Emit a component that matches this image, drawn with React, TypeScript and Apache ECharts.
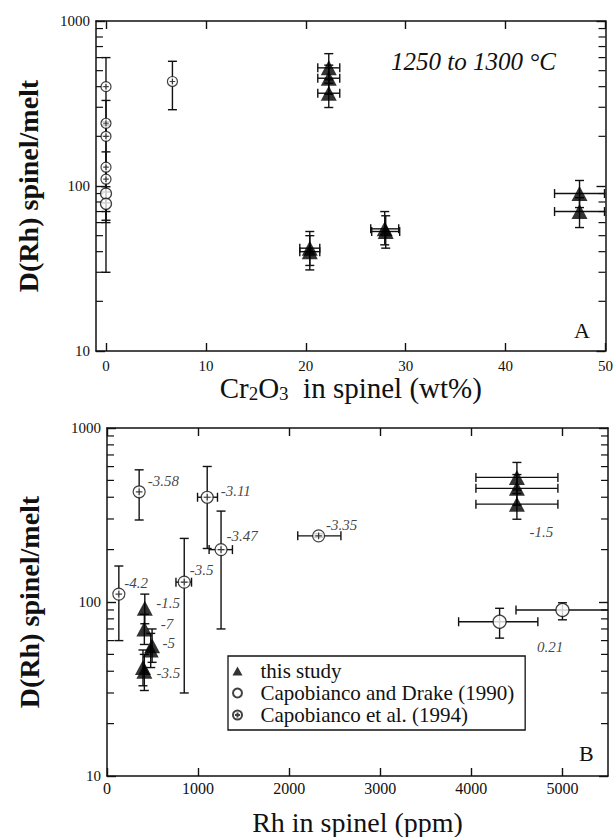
import React, { useEffect, useRef } from 'react';
import * as echarts from 'echarts';

// ---------- data ----------
const xTicksA = [0, 10, 20, 30, 40, 50];
const xTicksB = [0, 1000, 2000, 3000, 4000, 5000];
const minorTicks = [20, 30, 40, 50, 60, 70, 80, 90, 200, 300, 400, 500, 600, 700, 800, 900];

// rows: [x, D, xLow, xHigh, DLow, DHigh]
// Panel A: Cr2O3 in spinel (wt%)
const studyA = [
  [20.4, 42, 19.4, 21.4, 33, 53],
  [20.4, 40, 19.4, 21.4, 31, 50],
  [22.3, 520, 21.2, 23.4, 420, 634],
  [22.3, 450, 21.2, 23.4, 360, 540],
  [22.3, 365, 21.2, 23.4, 299, 440],
  [27.9, 55, 26.5, 29.3, 44, 70],
  [28.0, 53, 26.6, 29.4, 42, 66],
  [47.4, 90, 44.9, 49.9, 74, 108],
  [47.4, 70, 44.9, 49.9, 56, 85],
];
const drakeA = [
  [0, 90, 0, 0, 79, 99],
  [0, 78, 0, 0, 62, 92],
];
const capoA = [
  [0, 400, 0, 0, 200, 600],
  [0, 240, 0, 0, 235, 245],
  [0, 200, 0, 0, 70, 330],
  [0, 130, 0, 0, 30, 232],
  [0, 110, 0, 0, 60, 161],
  [6.65, 430, 6.65, 6.65, 290, 570],
];

// Panel B: Rh in spinel (ppm)
const studyB = [
  [415, 92, 415, 415, 75, 111],
  [410, 70, 410, 410, 57, 85],
  [495, 56, 495, 495, 45, 70],
  [480, 53, 480, 480, 42, 66],
  [395, 42, 395, 395, 33, 53],
  [410, 40, 410, 410, 31, 50],
  [4500, 520, 4050, 4950, 420, 634],
  [4500, 450, 4050, 4950, 360, 540],
  [4500, 365, 4050, 4950, 299, 440],
];
const drakeB = [
  [4310, 77, 3860, 4730, 62, 92],
  [5000, 90, 4490, 5600, 79, 99],
];
const capoB = [
  [130, 111, 130, 130, 60, 161],
  [353, 430, 353, 353, 296, 575],
  [848, 130, 757, 928, 30, 232],
  [1100, 400, 994, 1213, 203, 601],
  [1252, 200, 1121, 1377, 70, 333],
  [2323, 240, 2094, 2568, 235, 247],
];

// fO2 annotations (panel B) anchored at data points
const annX = [353, 1100, 1252, 848, 130, 2323, 415, 410, 495, 395, 4500, 5000];
const annY = [430, 400, 200, 130, 111, 240, 92, 70, 56, 42, 365, 90];
const annText = ['-3.58', '-3.11', '-3.47', '-3.5', '-4.2', '-3.35', '-1.5', '-7', '-5', '-3.5', '-1.5', '0.21'];
// label offsets in px (style)
const annOffset = [
  [9, -10], [14, -6], [6, -13], [6, -12], [6, -11], [8, -10],
  [12, -5], [17, -4], [11, -2], [14, 6], [13, 28], [-25, 38],
];

const names = ['this study', 'Capobianco and Drake (1990)', 'Capobianco et al. (1994)'];

// ---------- styles ----------
const SERIF = 'Liberation Serif';
const INK = '#111';
const CPLUS = 'path://M10,0 A10,10 0 1,1 10,20 A10,10 0 1,1 10,0 Z M4.5,10 L15.5,10 M10,4.5 L10,15.5';
const TRI = 'path://M5,0 L10,9 L0,9 Z';

function errSeries(data: number[][], xi: number, yi: number) {
  return {
    type: 'custom',
    xAxisIndex: xi,
    yAxisIndex: yi,
    data,
    clip: true,
    silent: true,
    z: 2,
    encode: { x: [0, 2, 3], y: [1, 4, 5] },
    renderItem: (params: any, api: any) => {
      const x = api.value(0), y = api.value(1);
      const xl = api.value(2), xh = api.value(3), yl = api.value(4), yh = api.value(5);
      const c = api.coord([x, y]);
      const st = { stroke: INK, lineWidth: 1.4 };
      const cap = 4.5;
      const ch: any[] = [];
      if (yl !== yh) {
        const a = api.coord([x, yl]), b = api.coord([x, yh]);
        ch.push({ type: 'line', shape: { x1: c[0], y1: a[1], x2: c[0], y2: b[1] }, style: st });
        ch.push({ type: 'line', shape: { x1: c[0] - cap, y1: a[1], x2: c[0] + cap, y2: a[1] }, style: st });
        ch.push({ type: 'line', shape: { x1: c[0] - cap, y1: b[1], x2: c[0] + cap, y2: b[1] }, style: st });
      }
      if (xl !== xh) {
        const a = api.coord([xl, y]), b = api.coord([xh, y]);
        ch.push({ type: 'line', shape: { x1: a[0], y1: c[1], x2: b[0], y2: c[1] }, style: st });
        ch.push({ type: 'line', shape: { x1: a[0], y1: c[1] - cap, x2: a[0], y2: c[1] + cap }, style: st });
        ch.push({ type: 'line', shape: { x1: b[0], y1: c[1] - cap, x2: b[0], y2: c[1] + cap }, style: st });
      }
      return { type: 'group', children: ch };
    },
  };
}

function minorSeries(xv: number, xi: number, yi: number) {
  return {
    type: 'custom',
    xAxisIndex: xi,
    yAxisIndex: yi,
    data: minorTicks.map((v) => [xv, v]),
    silent: true,
    clip: false,
    z: 3,
    renderItem: (params: any, api: any) => {
      const cs = params.coordSys;
      const p = api.coord([api.value(0), api.value(1)]);
      const st = { stroke: INK, lineWidth: 1.2 };
      return {
        type: 'group',
        children: [
          { type: 'line', shape: { x1: cs.x, y1: p[1], x2: cs.x + 7, y2: p[1] }, style: st },
          { type: 'line', shape: { x1: cs.x + cs.width, y1: p[1], x2: cs.x + cs.width - 7, y2: p[1] }, style: st },
        ],
      };
    },
  };
}

function markerSeries(a: number[][], b: number[][], c: number[][], xi: number, yi: number, circ: number, plus: number) {
  return [
    {
      type: 'scatter', name: names[0], xAxisIndex: xi, yAxisIndex: yi, z: 5,
      data: a.map((d) => [d[0], d[1]]), symbol: 'triangle', symbolSize: [16, 15],
      itemStyle: { color: '#000' },
    },
    {
      type: 'scatter', name: names[1], xAxisIndex: xi, yAxisIndex: yi, z: 5,
      data: b.map((d) => [d[0], d[1]]), symbol: 'circle', symbolSize: circ,
      itemStyle: { color: '#fff', borderColor: INK, borderWidth: 1.3 },
    },
    {
      type: 'scatter', name: names[2], xAxisIndex: xi, yAxisIndex: yi, z: 5,
      data: c.map((d) => [d[0], d[1]]), symbol: CPLUS, symbolSize: plus,
      itemStyle: { color: '#fff', borderColor: INK, borderWidth: 1.2 },
    },
  ];
}

const axisLine = { show: true, onZero: false, lineStyle: { color: INK, width: 1.5 } };

function xAxes(grid: number, min: number, max: number, ticks: number[], name: any, nameGap: number, labelSize: number, labelMargin: number, nameStyle: any) {
  return [
    {
      type: 'value', gridIndex: grid, min, max, position: 'bottom',
      axisLine, splitLine: { show: false },
      axisTick: { show: true, inside: true, length: 8, customValues: ticks, lineStyle: { color: INK, width: 1.4 } },
      axisLabel: {
        customValues: ticks, color: INK, fontFamily: SERIF, fontSize: labelSize, margin: labelMargin,
        formatter: (v: number) => String(v),
      },
      name, nameLocation: 'middle', nameGap,
      nameTextStyle: nameStyle,
    },
    {
      type: 'value', gridIndex: grid, min, max, position: 'top',
      axisLine, splitLine: { show: false },
      axisTick: { show: true, inside: true, length: 8, customValues: ticks, lineStyle: { color: INK, width: 1.4 } },
      axisLabel: { show: false },
    },
  ];
}

function yAxes(grid: number, nameGap: number, labelMargin: number) {
  return [
    {
      type: 'log', logBase: 10, gridIndex: grid, min: 10, max: 1000, position: 'left',
      axisLine, splitLine: { show: false },
      axisTick: { show: true, inside: true, length: 9, lineStyle: { color: INK, width: 1.4 } },
      axisLabel: { color: INK, fontFamily: SERIF, fontSize: 15, margin: labelMargin, formatter: (v: number) => String(Math.round(v)) },
      name: 'D(Rh) spinel/melt', nameLocation: 'middle', nameGap, nameRotate: 90,
      nameTextStyle: { color: INK, fontFamily: SERIF, fontSize: 28, fontWeight: 'bold' },
    },
    {
      type: 'log', logBase: 10, gridIndex: grid, min: 10, max: 1000, position: 'right',
      axisLine, splitLine: { show: false },
      axisTick: { show: true, inside: true, length: 9, lineStyle: { color: INK, width: 1.4 } },
      axisLabel: { show: false },
    },
  ];
}

export default function App() {
  const ref = useRef<HTMLDivElement>(null);
  useEffect(() => {
    if (!ref.current) return;
    const chart = echarts.init(ref.current, null, { renderer: 'svg', width: 616, height: 837 });
    const nameA = {
      color: INK, fontFamily: SERIF, fontSize: 29,
      rich: {
        a: { fontSize: 29, fontFamily: SERIF, color: INK, lineHeight: 30 },
        s: { fontSize: 19, fontFamily: SERIF, color: INK, lineHeight: 10, verticalAlign: 'bottom' },
      },
    };
    const nameB = { color: INK, fontFamily: SERIF, fontSize: 28 };
    const option: any = {
      animation: false,
      backgroundColor: '#fff',
      textStyle: { fontFamily: SERIF },
      grid: [
        { left: 96, top: 21, width: 511, height: 330 },
        { left: 107, top: 428, width: 501, height: 348 },
      ],
      xAxis: [
        ...xAxes(0, -1, 50, xTicksA, '{a|Cr}{s|2}{a|O}{s|3}{a|  in spinel (wt%)}', 22, 15, 7, nameA),
        ...xAxes(1, 0, 5500, xTicksB, 'Rh in spinel (ppm)', 32, 16, 4, nameB),
      ],
      yAxis: [...yAxes(0, 54, 6), ...yAxes(1, 64, 6)],
      legend: {
        show: true,
        orient: 'vertical',
        left: 228,
        top: 656,
        data: [{ name: names[0], icon: TRI }, { name: names[1] }, { name: names[2] }],
        itemWidth: 36,
        itemHeight: 9,
        symbolKeepAspect: true,
        itemGap: 0,
        padding: [4, 11, 4, 4],
        borderColor: INK,
        borderWidth: 1.3,
        backgroundColor: '#fff',
        selectedMode: false,
        textStyle: { color: INK, fontFamily: SERIF, fontSize: 21, lineHeight: 22 },
      },
      graphic: [
        { type: 'text', left: 391, top: 49, style: { text: '1250 to 1300 °C', fontFamily: SERIF, fontStyle: 'italic', fontSize: 25, fill: INK } },
        { type: 'text', left: 574, top: 319, style: { text: 'A', fontFamily: SERIF, fontSize: 22, fill: INK } },
        { type: 'text', left: 579, top: 742, style: { text: 'B', fontFamily: SERIF, fontSize: 22, fill: INK } },
      ],
      series: [
        minorSeries(0, 0, 0),
        minorSeries(0, 2, 2),
        errSeries(studyA, 0, 0),
        errSeries(drakeA, 0, 0),
        errSeries(capoA, 0, 0),
        errSeries(studyB, 2, 2),
        errSeries(drakeB, 2, 2),
        errSeries(capoB, 2, 2),
        ...markerSeries(studyA, drakeA, capoA, 0, 0, 11, 10),
        ...markerSeries(studyB, drakeB, capoB, 2, 2, 13, 12),
        {
          type: 'scatter', xAxisIndex: 2, yAxisIndex: 2, z: 6, silent: true,
          symbolSize: 1, itemStyle: { color: 'rgba(0,0,0,0)' },
          data: annX.map((x, i) => ({
            value: [x, annY[i]],
            label: { position: annOffset[i] },
          })),
          label: {
            show: true,
            formatter: (p: any) => annText[p.dataIndex],
            align: 'left',
            verticalAlign: 'middle',
            color: INK,
            fontFamily: SERIF,
            fontStyle: 'italic',
            fontSize: 15,
          },
        },
      ],
    };
    chart.setOption(option);
    return () => chart.dispose();
  }, []);
  return <div ref={ref} style={{ position: 'absolute', left: 0, top: 0, width: 616, height: 837, background: '#fff' }} />;
}
